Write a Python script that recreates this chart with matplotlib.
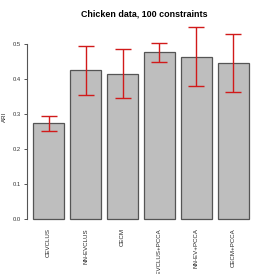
import matplotlib
matplotlib.use("Agg")
import matplotlib.pyplot as plt
import numpy as np

plt.rcParams['font.family'] = ['Liberation Sans', 'DejaVu Sans']

methods = ['CEVCLUS', 'NN-EVCLUS', 'CECM', 'CEVCLUS+PCCA', 'NN-EV+PCCA', 'CECM+PCCA']
ari = [0.273, 0.424, 0.415, 0.476, 0.463, 0.445]
err = [0.022, 0.070, 0.070, 0.027, 0.084, 0.082]

fig = plt.figure(figsize=(2.74, 2.74), dpi=100)
# plot region measured in pixels from the reference
ax = fig.add_axes([27 / 274, (274 - 227) / 274, (255 - 27) / 274, (227 - 19.6) / 274])

x = 0.2 + np.arange(len(methods)) * 1.2 + 0.5
ax.bar(x, ari, width=1.0, color='#bebebe', edgecolor='#555555', linewidth=0.9)
ax.errorbar(x, ari, yerr=err, fmt='none', ecolor='#d11a1a', elinewidth=1.0,
            capsize=5.5, capthick=1.0)

ax.set_xlim(0, 7.4)
ax.set_ylim(-0.022, 0.569)
for s in ['top', 'right', 'bottom']:
    ax.spines[s].set_visible(False)
ax.spines['left'].set_bounds(0, 0.5)
ax.spines['left'].set_color('#555555')
ax.spines['left'].set_linewidth(0.8)
ax.set_yticks(np.arange(0, 0.51, 0.1))
ax.set_yticklabels(['%.1f' % v for v in np.arange(0, 0.51, 0.1)])
ax.tick_params(axis='y', labelsize=4.2, length=2.5, width=0.7, color='#555555',
               pad=2, labelcolor='#333333')
ax.set_xticks([])

for xi, name in zip(x, methods):
    ax.text(xi, -0.025, name, rotation=90, ha='center', va='top', fontsize=4.4,
            color='#222222')

fig.text(4.5 / 274, 1 - 117 / 274, 'ARI', rotation=90, ha='center', va='center',
         fontsize=4.4, color='#222222')
fig.text(144 / 274, 1 - 14.3 / 274, 'Chicken data, 100 constraints', ha='center',
         va='center', fontsize=6.4, fontweight='bold')

fig.savefig('out.png', dpi=100)
